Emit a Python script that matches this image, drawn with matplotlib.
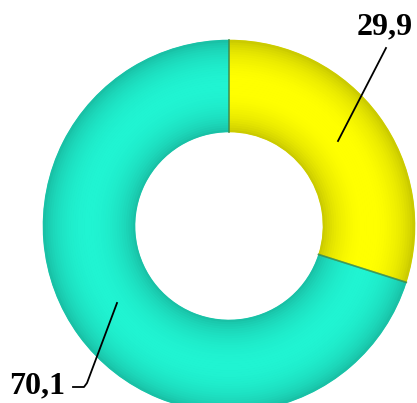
import numpy as np
import matplotlib
matplotlib.use('Agg')
import matplotlib.pyplot as plt
from matplotlib.patches import Wedge
from matplotlib.colors import to_rgb

# data
labels = ['29,9', '70,1']
values = [29.9, 70.1]
colors = ['#f2f200', '#1ee6c6']

W, H = 417, 403
CX, CY = 229, 226
R_OUT, R_IN = 186, 94

fig = plt.figure(figsize=(W / 100, H / 100), dpi=100)
ax = fig.add_axes([0, 0, 1, 1])

# base pie; y axis is inverted, so flip direction to keep clockwise-from-top look
wedges, _ = ax.pie(values, colors=colors, startangle=-90, counterclock=True,
                   radius=R_OUT, center=(CX, CY), frame=True,
                   wedgeprops=dict(width=R_OUT - R_IN, linewidth=0))
ax.set_xlim(0, W)
ax.set_ylim(H, 0)
ax.axis('off')

# fake bevel shading: thin annuli, darker at edges, brighter in the middle
n = 40
for w, c in zip(wedges, colors):
    base = np.array(to_rgb(c))
    for i in range(n):
        t0, t1 = i / n, (i + 1) / n
        t = (t0 + t1) / 2
        shade = 0.80 + 0.26 * np.sin(np.pi * t) ** 0.6
        col = np.clip(base * shade, 0, 1)
        r0 = R_IN + (R_OUT - R_IN) * t0
        r1 = R_IN + (R_OUT - R_IN) * t1
        ax.add_patch(Wedge((CX, CY), r1 + 0.3, w.theta1, w.theta2,
                           width=r1 - r0 + 0.6, facecolor=col, edgecolor='none'))
    # slight dark seam at wedge boundaries
    for th in (w.theta1, w.theta2):
        a = np.deg2rad(th)
        ax.plot([CX + R_IN * np.cos(a), CX + R_OUT * np.cos(a)],
                [CY + R_IN * np.sin(a), CY + R_OUT * np.sin(a)],
                color=np.clip(base * 0.6, 0, 1), lw=1.2, alpha=0.6)

font = dict(family=['Liberation Serif', 'DejaVu Serif'], fontweight='bold',
            fontsize=23, color='black')

# labels with leader lines
ax.text(385, 27, labels[0], ha='center', va='center', **font)
ax.plot([386, 338], [48, 141], color='black', lw=1.3)

ax.text(37, 386, labels[1], ha='center', va='center', **font)
ax.plot([117, 87, 84, 73], [303, 383, 387, 387], color='black', lw=1.3)

fig.savefig('out.png', dpi=100)
